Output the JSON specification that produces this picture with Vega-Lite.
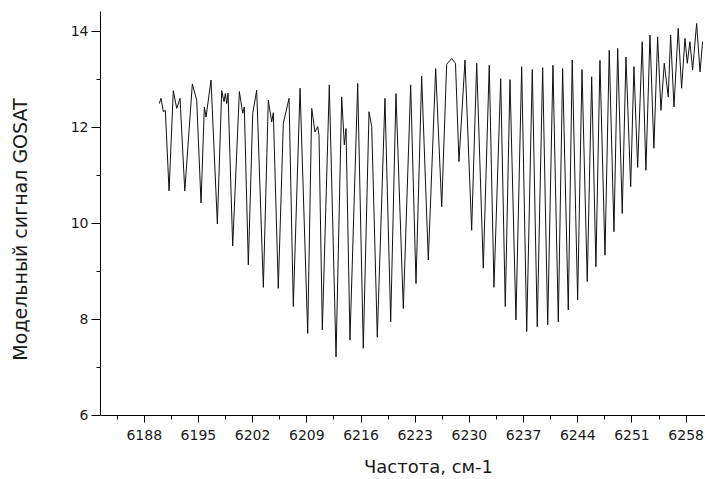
{
  "$schema": "https://vega.github.io/schema/vega-lite/v6.json",
  "width": 605,
  "height": 404,
  "autosize": {"type": "none"},
  "padding": {"left": 100, "top": 11, "right": 0, "bottom": 64},
  "background": "white",
  "config": {
    "view": {"stroke": null},
    "axis": {
      "grid": false,
      "domainColor": "#000000",
      "domainWidth": 1,
      "tickColor": "#000000",
      "tickWidth": 1,
      "labelColor": "#1a1a1a",
      "titleColor": "#1a1a1a",
      "labelFont": "DejaVu Sans",
      "titleFont": "DejaVu Sans",
      "titleFontWeight": "normal",
      "labelFlush": false,
      "labelOverlap": false
    }
  },
  "data": {
    "values": [
      {"nu": 6190.01, "s": 12.49}, {"nu": 6190.23, "s": 12.60}, {"nu": 6190.53, "s": 12.32}, {"nu": 6190.79, "s": 12.35}, {"nu": 6191.27, "s": 10.67},
      {"nu": 6191.82, "s": 12.76}, {"nu": 6192.26, "s": 12.39}, {"nu": 6192.69, "s": 12.60}, {"nu": 6193.30, "s": 10.67}, {"nu": 6194.28, "s": 12.90},
      {"nu": 6194.84, "s": 12.56}, {"nu": 6195.40, "s": 10.42}, {"nu": 6195.83, "s": 12.42}, {"nu": 6196.05, "s": 12.21}, {"nu": 6196.69, "s": 12.98},
      {"nu": 6197.51, "s": 9.98}, {"nu": 6198.07, "s": 12.76}, {"nu": 6198.37, "s": 12.53}, {"nu": 6198.54, "s": 12.70}, {"nu": 6198.72, "s": 12.49},
      {"nu": 6198.89, "s": 12.71}, {"nu": 6199.49, "s": 9.52}, {"nu": 6200.35, "s": 12.74}, {"nu": 6200.79, "s": 12.29}, {"nu": 6200.99, "s": 12.42},
      {"nu": 6201.51, "s": 9.13}, {"nu": 6202.08, "s": 12.29}, {"nu": 6202.59, "s": 12.77}, {"nu": 6203.45, "s": 8.66}, {"nu": 6204.09, "s": 12.56},
      {"nu": 6204.53, "s": 12.11}, {"nu": 6204.74, "s": 12.30}, {"nu": 6205.38, "s": 8.64}, {"nu": 6206.03, "s": 12.08}, {"nu": 6206.77, "s": 12.60},
      {"nu": 6207.32, "s": 8.26}, {"nu": 6208.19, "s": 12.81}, {"nu": 6209.18, "s": 7.70}, {"nu": 6209.70, "s": 12.39}, {"nu": 6210.12, "s": 11.90},
      {"nu": 6210.47, "s": 12.01}, {"nu": 6210.64, "s": 11.83}, {"nu": 6211.07, "s": 7.77}, {"nu": 6211.97, "s": 12.88}, {"nu": 6212.84, "s": 7.21},
      {"nu": 6213.57, "s": 12.63}, {"nu": 6213.91, "s": 11.63}, {"nu": 6214.13, "s": 11.97}, {"nu": 6214.64, "s": 7.56}, {"nu": 6215.64, "s": 12.91},
      {"nu": 6216.36, "s": 7.39}, {"nu": 6217.10, "s": 12.32}, {"nu": 6217.45, "s": 12.01}, {"nu": 6218.17, "s": 7.62}, {"nu": 6219.16, "s": 12.60},
      {"nu": 6219.90, "s": 7.94}, {"nu": 6220.58, "s": 12.70}, {"nu": 6221.53, "s": 8.22}, {"nu": 6222.48, "s": 12.88}, {"nu": 6223.17, "s": 8.74},
      {"nu": 6223.90, "s": 13.06}, {"nu": 6224.76, "s": 9.23}, {"nu": 6225.71, "s": 13.22}, {"nu": 6226.49, "s": 10.34}, {"nu": 6227.13, "s": 13.31},
      {"nu": 6227.78, "s": 13.43}, {"nu": 6228.27, "s": 13.33}, {"nu": 6228.72, "s": 11.28}, {"nu": 6229.50, "s": 13.40}, {"nu": 6230.36, "s": 9.85},
      {"nu": 6231.01, "s": 13.33}, {"nu": 6231.86, "s": 9.06}, {"nu": 6232.63, "s": 13.29}, {"nu": 6233.24, "s": 8.66}, {"nu": 6234.11, "s": 13.01},
      {"nu": 6234.70, "s": 8.26}, {"nu": 6235.31, "s": 12.99}, {"nu": 6236.08, "s": 7.98}, {"nu": 6236.82, "s": 13.26}, {"nu": 6237.47, "s": 7.74},
      {"nu": 6238.19, "s": 13.20}, {"nu": 6238.83, "s": 7.84}, {"nu": 6239.53, "s": 13.24}, {"nu": 6240.18, "s": 7.88}, {"nu": 6240.86, "s": 13.29},
      {"nu": 6241.55, "s": 7.94}, {"nu": 6242.11, "s": 13.22}, {"nu": 6242.84, "s": 8.19}, {"nu": 6243.35, "s": 13.40}, {"nu": 6244.05, "s": 8.40},
      {"nu": 6244.61, "s": 13.20}, {"nu": 6245.29, "s": 8.78}, {"nu": 6245.86, "s": 13.05}, {"nu": 6246.41, "s": 9.09}, {"nu": 6246.93, "s": 13.39},
      {"nu": 6247.58, "s": 9.33}, {"nu": 6248.13, "s": 13.60}, {"nu": 6248.74, "s": 9.82}, {"nu": 6249.22, "s": 13.64}, {"nu": 6249.81, "s": 10.20},
      {"nu": 6250.29, "s": 13.46}, {"nu": 6250.90, "s": 10.76}, {"nu": 6251.32, "s": 13.26}, {"nu": 6251.80, "s": 11.16}, {"nu": 6252.39, "s": 13.78},
      {"nu": 6252.87, "s": 11.10}, {"nu": 6253.39, "s": 13.92}, {"nu": 6253.90, "s": 11.56}, {"nu": 6254.38, "s": 13.88}, {"nu": 6254.81, "s": 12.35},
      {"nu": 6255.24, "s": 13.33}, {"nu": 6255.75, "s": 12.63}, {"nu": 6256.06, "s": 13.92}, {"nu": 6256.49, "s": 12.42}, {"nu": 6257.04, "s": 14.06},
      {"nu": 6257.48, "s": 12.81}, {"nu": 6257.91, "s": 13.85}, {"nu": 6258.21, "s": 13.33}, {"nu": 6258.55, "s": 13.78}, {"nu": 6258.90, "s": 13.19},
      {"nu": 6259.42, "s": 14.16}, {"nu": 6259.86, "s": 13.15}, {"nu": 6260.19, "s": 13.78}
    ]
  },
  "mark": {"type": "line", "color": "#111111", "strokeWidth": 1, "clip": true},
  "encoding": {
    "x": {
      "field": "nu",
      "type": "quantitative",
      "scale": {"domain": [6182.35, 6260.5], "nice": false, "zero": false},
      "axis": {
        "title": "Частота, см-1",
        "values": [6184.5, 6188, 6191.5, 6195, 6198.5, 6202, 6205.5, 6209, 6212.5, 6216, 6219.5, 6223, 6226.5, 6230, 6233.5, 6237, 6240.5, 6244, 6247.5, 6251, 6254.5, 6258],
        "labelExpr": "abs((datum.value - 6188) % 7) < 0.01 ? format(datum.value, 'd') : ''",
        "tickSize": {"condition": {"test": "abs((datum.value - 6188) % 7) < 0.01", "value": 7}, "value": 4},
        "labelFontSize": 14,
        "labelPadding": 6,
        "titleFontSize": 18,
        "titleAnchor": "start",
        "titleAlign": "center",
        "titleBaseline": "alphabetic",
        "titleX": 328,
        "titleY": 57
      }
    },
    "y": {
      "field": "s",
      "type": "quantitative",
      "scale": {"domain": [6, 14.42], "nice": false, "zero": false},
      "axis": {
        "title": "Модельный сигнал GOSAT",
        "values": [6, 7, 8, 9, 10, 11, 12, 13, 14],
        "labelExpr": "datum.value % 2 == 0 ? format(datum.value, 'd') : ''",
        "tickSize": {"condition": {"test": "datum.value % 2 == 0", "value": 9}, "value": 4},
        "labelFontSize": 14,
        "labelPadding": 3,
        "titleFontSize": 19,
        "titleAngle": 270,
        "titleAlign": "center",
        "titleBaseline": "alphabetic",
        "titleX": -74,
        "titleY": 218
      }
    }
  }
}
